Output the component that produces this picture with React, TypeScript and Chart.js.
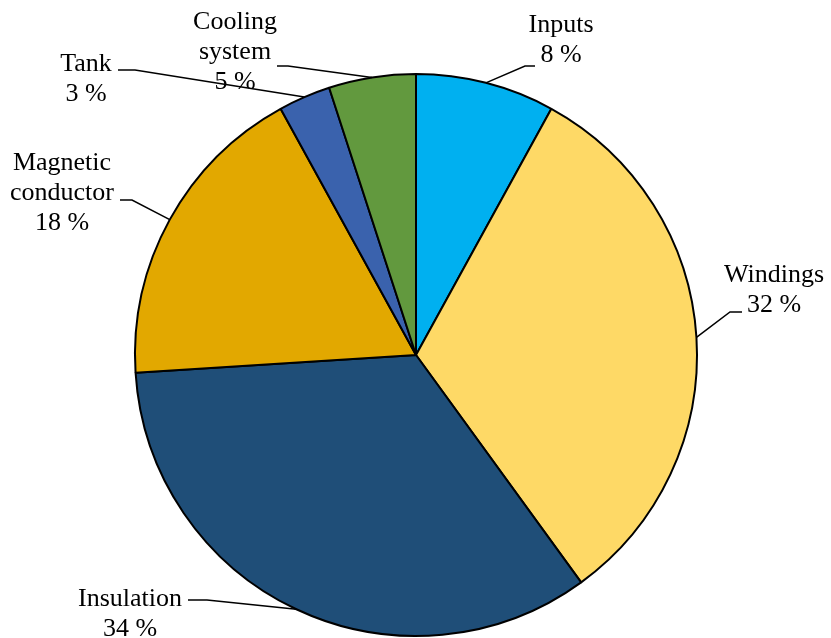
import React, { useEffect, useRef } from "react";
import { Chart, registerables } from "chart.js";

Chart.register(...registerables);

const categories = ["Inputs", "Windings", "Insulation", "Magnetic conductor", "Tank", "Cooling system"];
const shares = [8, 32, 34, 18, 3, 5];
const labelLines = [
  ["Inputs", "8 %"],
  ["Windings", "32 %"],
  ["Insulation", "34 %"],
  ["Magnetic", "conductor", "18 %"],
  ["Tank", "3 %"],
  ["Cooling", "system", "5 %"],
];
const sliceColors = ["#00B0F0", "#FED966", "#1F4E78", "#E2A800", "#3A62AD", "#62993E"];

// label layout: text centre x, first baseline y, leader start and elbow
const labelLayout = [
  { x: 561, y: 32, start: [535, 66], elbow: [525, 66] },
  { x: 774, y: 282, start: [742, 312], elbow: [730, 312] },
  { x: 130, y: 606, start: [188, 600], elbow: [207, 600] },
  { x: 62, y: 170, start: [120, 200], elbow: [132, 200] },
  { x: 86, y: 71, start: [118, 70], elbow: [135, 70] },
  { x: 235, y: 29, start: [277, 66], elbow: [288, 66] },
];

const FONT = '26px "Liberation Serif", "Times New Roman", serif';
const LINE_H = 30;

const labelPlugin = {
  id: "pieLabels",
  afterDatasetsDraw(chart: any) {
    const ctx = chart.ctx;
    const meta = chart.getDatasetMeta(0);
    ctx.save();
    ctx.font = FONT;
    ctx.fillStyle = "#000";
    ctx.textAlign = "center";
    ctx.textBaseline = "alphabetic";
    meta.data.forEach((arc: any, i: number) => {
      const p = arc.getProps(["x", "y", "startAngle", "endAngle", "outerRadius"], true);
      const mid = (p.startAngle + p.endAngle) / 2;
      const ex = p.x + Math.cos(mid) * p.outerRadius;
      const ey = p.y + Math.sin(mid) * p.outerRadius;
      const lay = labelLayout[i];
      ctx.strokeStyle = "#000";
      ctx.lineWidth = 1.5;
      ctx.beginPath();
      ctx.moveTo(lay.start[0], lay.start[1]);
      ctx.lineTo(lay.elbow[0], lay.elbow[1]);
      ctx.lineTo(ex, ey);
      ctx.stroke();
      labelLines[i].forEach((t, k) => {
        ctx.fillText(t, lay.x, lay.y + k * LINE_H);
      });
    });
    ctx.restore();
  },
};

export default function App() {
  const ref = useRef<HTMLCanvasElement>(null);
  useEffect(() => {
    if (!ref.current) return;
    const chart = new Chart(ref.current, {
      type: "pie",
      data: {
        labels: categories,
        datasets: [
          {
            data: shares,
            backgroundColor: sliceColors,
            borderColor: "#000",
            borderWidth: 2,
          },
        ],
      },
      options: {
        animation: false,
        responsive: true,
        maintainAspectRatio: false,
        layout: { padding: { left: 134, right: 133, top: 73, bottom: 1 } },
        plugins: {
          legend: { display: false },
          tooltip: { enabled: false },
        },
      },
      plugins: [labelPlugin],
    });
    return () => chart.destroy();
  }, []);
  return (
    <div style={{ position: "fixed", left: 0, top: 0, width: 831, height: 638, background: "#fff" }}>
      <canvas ref={ref} />
    </div>
  );
}
